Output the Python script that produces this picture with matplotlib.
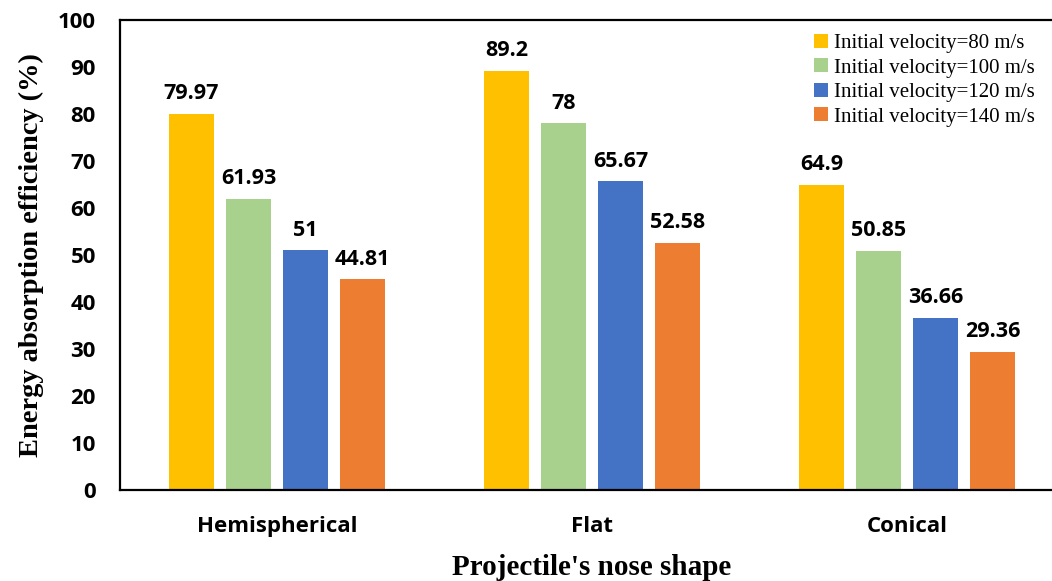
import matplotlib

matplotlib.use("Agg")

import matplotlib.pyplot as plt
import numpy as np

shapes = ["Hemispherical", "Flat", "Conical"]
series_names = [
    "Initial velocity=80 m/s",
    "Initial velocity=100 m/s",
    "Initial velocity=120 m/s",
    "Initial velocity=140 m/s",
]
v80 = [79.97, 89.2, 64.9]
v100 = [61.93, 78, 50.85]
v120 = [51, 65.67, 36.66]
v140 = [44.81, 52.58, 29.36]
colors = ["#FFC000", "#A9D18E", "#4472C4", "#ED7D31"]

fig = plt.figure(figsize=(10.52, 5.81), dpi=100)
ax = fig.add_axes([119.5 / 1052, 91 / 581, 945 / 1052, 470 / 581])

x = np.arange(len(shapes))
step = 0.181
width = 0.143
for i, (vals, name, c) in enumerate(zip([v80, v100, v120, v140], series_names, colors)):
    pos = x + (i - 1.5) * step
    ax.bar(pos, vals, width, color=c, label=name)
    for px, v in zip(pos, vals):
        ax.annotate(f"{v:g}", (px, v), xytext=(0, 7), textcoords="offset points",
                    ha="center", va="bottom", fontsize=15.5, fontweight="bold",
                    family="Open Sans")

ax.set_xlim(-0.5, 2.5)
ax.set_ylim(0, 100)
ax.set_yticks(range(0, 101, 10))
ax.set_xticks(x)
ax.set_xticklabels(shapes)
ax.tick_params(axis="y", length=0, pad=17)
ax.tick_params(axis="x", length=0, pad=19)
for lab in ax.get_xticklabels() + ax.get_yticklabels():
    lab.set_fontfamily("Open Sans")
    lab.set_fontweight("bold")
    lab.set_fontsize(16)

for sp in ax.spines.values():
    sp.set_linewidth(1.6)

ax.set_xlabel("Projectile's nose shape", family="Liberation Serif",
              fontweight="bold", fontsize=21, labelpad=12)
ax.set_ylabel("Energy absorption efficiency (%)", family="Liberation Serif",
              fontweight="bold", fontsize=20.5, labelpad=10)

ax.legend(loc="upper right", bbox_to_anchor=(1035 / 1052, 1 - 34 / 581),
          bbox_transform=fig.transFigure, frameon=False,
          prop={"family": "Liberation Serif", "size": 15},
          handlelength=0.65, handleheight=0.65, handletextpad=0.3,
          labelspacing=0.25, borderpad=0, borderaxespad=0)

fig.savefig("out.png", dpi=100)
